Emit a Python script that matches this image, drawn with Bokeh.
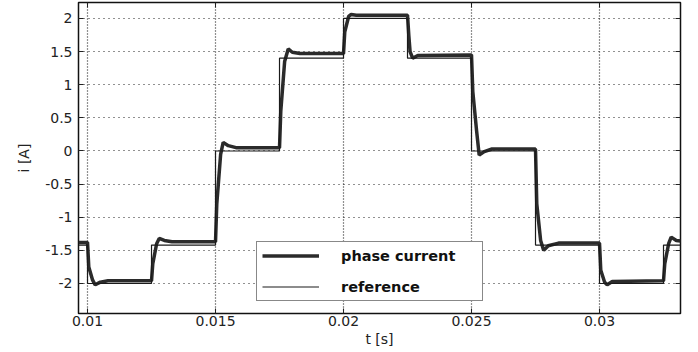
from bokeh.plotting import figure
from bokeh.models import Range1d, FixedTicker, LinearAxis, Legend, LegendItem
from bokeh.embed import file_html
from bokeh.resources import INLINE

# ---- data ----
phase_t = [
    0.00965, 0.01000, 0.01005, 0.01020, 0.01030, 0.01050, 0.01080, 0.01250,
    0.01255, 0.01270, 0.01280, 0.01300, 0.01330, 0.01500,
    0.01505, 0.01520, 0.01530, 0.01550, 0.01580, 0.01750,
    0.01755, 0.01770, 0.01784, 0.01800, 0.01830, 0.02000,
    0.02005, 0.02020, 0.02030, 0.02050, 0.02250,
    0.02255, 0.02260, 0.02270, 0.02290, 0.02500,
    0.02505, 0.02520, 0.02530, 0.02550, 0.02580, 0.02750,
    0.02755, 0.02770, 0.02782, 0.02800, 0.02840, 0.03000,
    0.03005, 0.03020, 0.03030, 0.03050, 0.03250,
    0.03255, 0.03270, 0.03280, 0.03300, 0.03317,
]
phase_i = [
    -1.38, -1.38, -1.75, -1.95, -2.02, -1.98, -1.96, -1.96,
    -1.70, -1.40, -1.32, -1.35, -1.37, -1.37,
    -0.80, -0.05, 0.13, 0.08, 0.05, 0.05,
    0.60, 1.35, 1.54, 1.49, 1.47, 1.47,
    1.80, 2.03, 2.06, 2.05, 2.05,
    1.75, 1.50, 1.40, 1.44, 1.45,
    0.90, 0.30, -0.06, -0.01, 0.03, 0.03,
    -0.80, -1.35, -1.50, -1.43, -1.39, -1.39,
    -1.80, -1.98, -2.02, -1.97, -1.96,
    -1.70, -1.40, -1.30, -1.35, -1.36,
]
ref_switch_t = [0.00965, 0.0100, 0.0125, 0.0150, 0.0175, 0.0200,
                0.0225, 0.0250, 0.0275, 0.0300, 0.0325]
ref_level = [-1.42, -2.00, -1.42, 0.00, 1.40, 2.00,
             1.40, 0.00, -1.42, -2.00, -1.42]
t_end = 0.03317

x_ticks = [0.01, 0.015, 0.02, 0.025, 0.03]
x_tick_labels = ["0.01", "0.015", "0.02", "0.025", "0.03"]
y_ticks = [-2, -1.5, -1, -0.5, 0, 0.5, 1, 1.5, 2]
y_tick_labels = ["-2", "-1.5", "-1", "-0.5", "0", "0.5", "1", "1.5", "2"]

# build step coordinates for the reference signal
ref_x, ref_y = [], []
bounds = ref_switch_t + [t_end]
for k, lev in enumerate(ref_level):
    ref_x += [bounds[k], bounds[k + 1]]
    ref_y += [lev, lev]

FONT = "DejaVu Sans"

p = figure(width=692, height=351, output_backend="svg", toolbar_location=None,
           x_range=Range1d(0.009648, 0.033164), y_range=Range1d(-2.453, 2.241),
           min_border_left=78, min_border_right=12, min_border_top=2,
           min_border_bottom=38, background_fill_color="white",
           border_fill_color="white")

p.outline_line_color = "#111111"
p.outline_line_width = 1.5

xt = FixedTicker(ticks=x_ticks)
yt = FixedTicker(ticks=y_ticks)
p.xaxis.ticker = xt
p.yaxis.ticker = yt
p.xgrid.ticker = xt
p.ygrid.ticker = yt
p.xaxis.major_label_overrides = dict(zip(x_ticks, x_tick_labels))
p.yaxis.major_label_overrides = {float(v): s for v, s in zip(y_ticks, y_tick_labels)}

p.xaxis.axis_label = "t [s]"
p.yaxis.axis_label = "i [A]"
for ax in [p.xaxis[0], p.yaxis[0]]:
    ax.axis_label_text_font = FONT
    ax.axis_label_text_font_size = "14px"
    ax.axis_label_text_font_style = "normal"
    ax.axis_label_text_color = "#222222"
    ax.major_label_text_font = FONT
    ax.major_label_text_font_size = "14px"
    ax.major_label_text_color = "#222222"
    ax.axis_line_color = None
    ax.major_tick_in = 5
    ax.major_tick_out = 0
    ax.major_tick_line_color = "#222222"
    ax.minor_tick_line_color = None
p.xaxis.major_label_standoff = 2
p.xaxis.axis_label_standoff = 2
p.yaxis.major_label_standoff = 6
p.yaxis.axis_label_standoff = 10

# top and right axes: inward ticks only
for loc, tk in [("above", xt), ("right", yt)]:
    ax = LinearAxis(ticker=tk, axis_line_color=None, major_tick_in=5,
                    major_tick_out=0, major_tick_line_color="#222222",
                    minor_tick_line_color=None, major_label_text_color=None,
                    major_label_text_font_size="0px", major_label_standoff=0)
    p.add_layout(ax, loc)

p.xgrid.grid_line_color = "#222222"
p.xgrid.grid_line_dash = "1 2"
p.ygrid.grid_line_color = "#222222"
p.ygrid.grid_line_dash = "1 4"
p.grid.grid_line_width = 1.2

r_phase = p.line(phase_t, phase_i, line_color="#2b2b2b", line_width=3.5)
r_ref = p.line(ref_x, ref_y, line_color="#1a1a1a", line_width=1.2)

legend = Legend(items=[LegendItem(label="phase current", renderers=[r_phase]),
                       LegendItem(label="reference", renderers=[r_ref])],
                location=(178, 12), padding=5, spacing=14, margin=0,
                glyph_width=57, glyph_height=17, label_height=17,
                label_width=136, label_standoff=22,
                label_text_font=FONT, label_text_font_style="bold",
                label_text_font_size="14.5px", label_text_color="#111111",
                border_line_color="#111111", border_line_width=1.2,
                background_fill_color="white", background_fill_alpha=1.0)
p.add_layout(legend)

open("out.html", "w").write(file_html(p, INLINE))
